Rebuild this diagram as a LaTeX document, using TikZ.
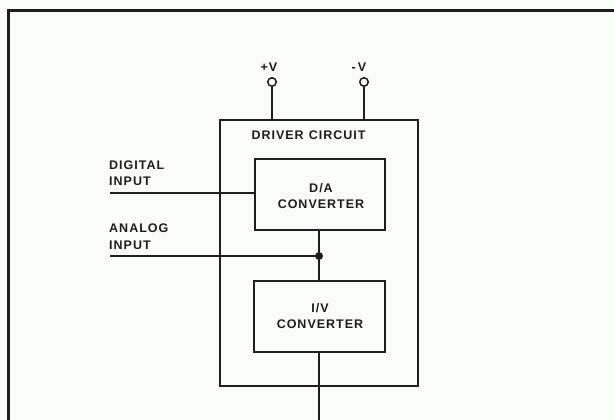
\documentclass[tikz,border=0pt]{standalone}
\usepackage{fontspec}
\setmainfont{Liberation Sans}[LetterSpace=8]
\definecolor{bgc}{RGB}{250,252,250}
\definecolor{ink}{RGB}{30,30,30}
\tikzset{
  wire/.style={draw=ink, line width=1.4pt},
  blockbox/.style={draw=ink, line width=1.7pt, rectangle, inner sep=0pt},
  lbl/.style={text=ink, inner sep=0pt, font=\fontsize{12.5}{16.5}\selectfont\bfseries, align=center},
  lbll/.style={lbl, align=left, anchor=west},
  term/.style={draw=ink, line width=1.5pt, circle, minimum size=8.5pt, inner sep=0pt, fill=bgc},
  junc/.style={fill=ink, circle, minimum size=8pt, inner sep=0pt}
}
\begin{document}
\begin{tikzpicture}[x=1pt,y=-1pt]
\fill[bgc] (0,0) rectangle (614,420);
\useasboundingbox (0,0) rectangle (614,420);
% frame
\draw[ink, line width=3.5pt] (8.5,420) -- (8.5,10.5) -- (614,10.5);

% blocks
\node[blockbox, minimum width=198pt, minimum height=266pt] (drv) at (319,253) {};
\node[blockbox, minimum width=130pt, minimum height=71pt] (da) at (320,194.5) {};
\node[blockbox, minimum width=131pt, minimum height=71pt] (iv) at (319.5,316.5) {};

\node[lbl] (drvlbl) at (308.5,135) {DRIVER\hspace{5pt}CIRCUIT};
\node[lbl] (dalbl) at (321,196) {D/A\\CONVERTER};
\node[lbl] (ivlbl) at (320,316) {I/V\\CONVERTER};

% supply terminals
\node[term] (pv) at (272,82) {};
\node[term] (mv) at (364,82) {};
\node[lbl] (pvlbl) at (269,67) {+V};
\node[lbl] (mvlbl) at (359,67) {-\,V};
\draw[wire] (pv.south) -- (pv.south |- drv.north);
\draw[wire] (mv.south) -- (mv.south |- drv.north);

% inputs
\coordinate (din) at (110,193);
\coordinate (ain) at (110,256);
\node[junc] (j) at (319,256) {};
\node[lbll] (dinlbl) at (109,173) {DIGITAL\\INPUT};
\node[lbll] (ainlbl) at (109,236.5) {ANALOG\\INPUT};
\draw[wire] (din) -- (din -| da.west);
\draw[wire] (ain) -- (j.center);
\draw[wire] (j.center |- da.south) -- (j.center) -- (j.center |- iv.north);

% output
\coordinate (out) at (319,420);
\draw[wire] (out |- iv.south) -- (out);
\end{tikzpicture}
\end{document}
